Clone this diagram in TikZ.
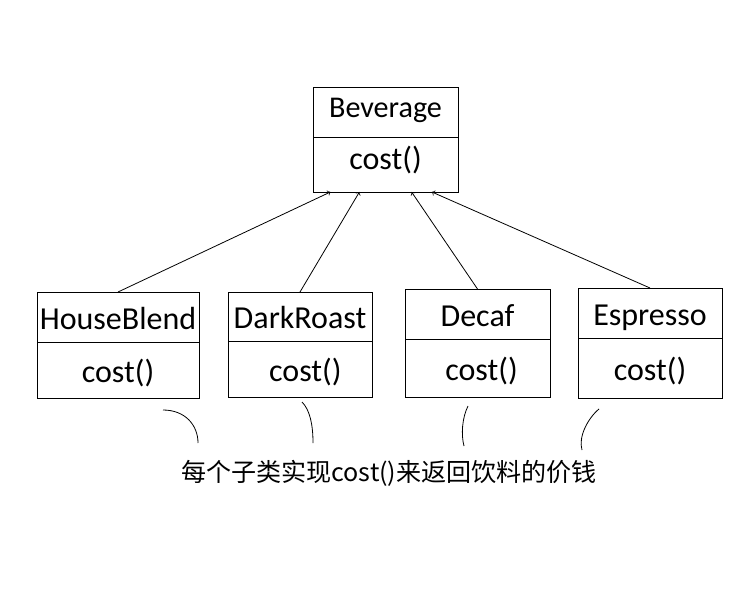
\documentclass[tikz,border=0pt]{standalone}
\usepackage{fontspec}
\setmainfont{Carlito}
\newfontfamily\cjk{Noto Sans CJK SC}
\usetikzlibrary{calc}

\tikzset{
  cls/.style 2 args={draw, line width=0.75pt, outer sep=0pt, inner sep=0pt,
    minimum width=#1*0.75pt, minimum height=#2*0.75pt,
    text height=18pt, text depth=0pt,
    font=\fontsize{24}{24}\selectfont},
  base/.style={text height=7.5pt},
  inherit/.style={->, line width=0.6pt},
  remark/.style={line width=0.6pt}
}

\begin{document}
\begin{tikzpicture}[x=0.75pt, y=-0.75pt]
    \useasboundingbox [fill=white] (0,0) rectangle (756,604);
    \node [cls={145}{50}, base, font=\fontsize{22.6}{22.6}\selectfont] (bev) at (385.5,112) {Beverage};
    \node [cls={145}{55}, base, anchor=north] (bevc) at (bev.south) {cost()\hspace{6pt}};
    \node [cls={162}{50}] (hb) at (118,317) {HouseBlend};
    \node [cls={162}{56}, anchor=north] (hbc) at (hb.south) {cost()};
    \node [cls={144}{49}] (dr) at (300,316.5) {DarkRoast};
    \node [cls={144}{56}, anchor=north] (drc) at (dr.south) {\hspace{8pt}cost()};
    \node [cls={145}{50}] (dc) at (477.5,314) {Decaf};
    \node [cls={145}{58}, anchor=north] (dcc) at (dc.south) {\hspace{6pt}cost()};
    \node [cls={144}{50}] (es) at (650,313) {Espresso};
    \node [cls={144}{60}, anchor=north] (esc) at (es.south) {cost()};
    \draw [inherit] (hb.north) -- ($(bevc.south west)!0.12!(bevc.south east)$);
    \draw [inherit] (dr.north) -- ($(bevc.south west)!0.32!(bevc.south east)$);
    \draw [inherit] (dc.north) -- ($(bevc.south west)!0.68!(bevc.south east)$);
    \draw [inherit] (es.north) -- ($(bevc.south west)!0.82!(bevc.south east)$);
    \node [font=\cjk\fontsize{18.8}{18.8}\selectfont] (note) at (389,473)
      {每个子类实现cost()来返回饮料的价钱};
    \draw [remark] (163,410) .. controls (185,410) and (198,425) .. (198,443);
    \draw [remark] (302,402) .. controls (310,410) and (313,425) .. (313,443);
    \draw [remark] (468,406) .. controls (462,418) and (461,435) .. (464,446);
    \draw [remark] (599,409) .. controls (588,418) and (578,437) .. (582,450);
  \end{tikzpicture}
\end{document}
